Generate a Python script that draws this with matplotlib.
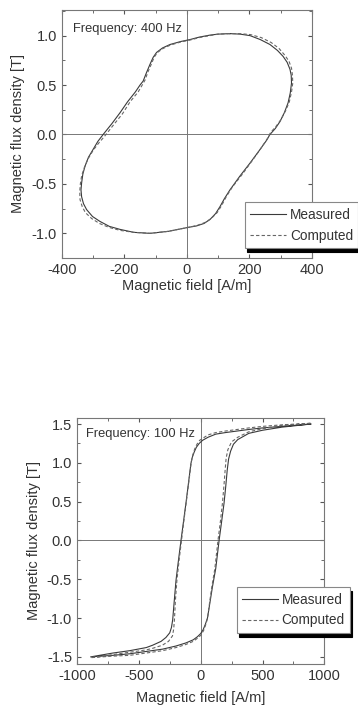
import matplotlib
matplotlib.use('Agg')
import matplotlib.pyplot as plt
from matplotlib.ticker import MultipleLocator, FormatStrFormatter

plt.rcParams['font.family'] = ['Liberation Sans', 'DejaVu Sans']
plt.rcParams['axes.unicode_minus'] = False

# 400 Hz loop (H in A/m, B in T)
h400_meas = [138, 100, 74, 40, 10, -20, -54, -78, -97, -108, -118, -130, -140, -150, -165,
             -190, -214, -240, -268, -285, -300, -315, -326, -333, -337, -339, -337, -331,
             -321, -302, -278, -248, -214, -170, -118, -60, 4, 31, 55, 74, 92, 106, 120, 138,
             170, 202, 230, 255, 266, 283, 298, 312, 324, 331, 335, 334, 330, 321, 308, 290,
             266, 235, 202, 170, 138]
b400_meas = [1.02, 1.015, 1.005, 0.985, 0.96, 0.94, 0.91, 0.875, 0.83, 0.78, 0.71, 0.62, 0.54,
             0.50, 0.43, 0.33, 0.22, 0.11, 0.0, -0.07, -0.15, -0.23, -0.32, -0.40, -0.49, -0.56,
             -0.63, -0.70, -0.76, -0.83, -0.88, -0.93, -0.96, -0.99, -1.0, -0.98, -0.94, -0.925,
             -0.90, -0.86, -0.80, -0.73, -0.65, -0.56, -0.42, -0.29, -0.17, -0.06, 0.0, 0.06,
             0.13, 0.22, 0.32, 0.42, 0.52, 0.60, 0.66, 0.73, 0.79, 0.85, 0.91, 0.96, 1.0, 1.015,
             1.02]
h400_comp = [138, 100, 74, 40, 10, -20, -52, -76, -94, -105, -114, -125, -134, -143, -156,
             -182, -206, -234, -264, -283, -300, -317, -329, -337, -341, -343, -342, -335,
             -325, -305, -280, -249, -214, -170, -118, -60, 4, 33, 58, 78, 97, 111, 126, 146,
             178, 208, 235, 258, 268, 285, 301, 316, 328, 335, 339, 338, 335, 327, 314, 295,
             270, 238, 204, 170, 138]
b400_comp = [1.02, 1.015, 1.0, 0.98, 0.955, 0.935, 0.905, 0.87, 0.83, 0.78, 0.71, 0.63, 0.55,
             0.50, 0.43, 0.33, 0.21, 0.10, -0.02, -0.09, -0.16, -0.25, -0.34, -0.42, -0.50,
             -0.58, -0.66, -0.73, -0.79, -0.85, -0.90, -0.94, -0.97, -0.99, -1.0, -0.98, -0.94,
             -0.92, -0.89, -0.85, -0.79, -0.72, -0.63, -0.53, -0.40, -0.27, -0.15, -0.04, 0.02,
             0.08, 0.15, 0.24, 0.33, 0.43, 0.52, 0.60, 0.67, 0.74, 0.80, 0.87, 0.93, 0.98, 1.01,
             1.02, 1.02]

# 100 Hz loop
h100_meas = [890, 657, 500, 389, 200, 122, 60, 15, -12, -35, -52, -68, -79, -100, -119, -139,
             -159, -179, -199, -213, -226, -236, -250, -281, -320, -389, -440, -574, -708, -890,
             -708, -574, -440, -307, -200, -119, -60, -26, 0, 20, 38, 55, 70, 95, 122, 149, 170,
             189, 203, 215, 226, 242, 265, 300, 389, 500, 657, 890]
b100_meas = [1.5, 1.47, 1.45, 1.43, 1.39, 1.37, 1.33, 1.29, 1.25, 1.2, 1.14, 1.07, 0.99, 0.72,
             0.48, 0.24, 0.0, -0.25, -0.51, -0.77, -1.02, -1.12, -1.19, -1.25, -1.3, -1.35,
             -1.38, -1.42, -1.45, -1.5, -1.48, -1.46, -1.43, -1.40, -1.36, -1.32, -1.28, -1.24,
             -1.20, -1.15, -1.08, -1.0, -0.85, -0.6, -0.36, 0.0, 0.25, 0.48, 0.7, 0.91, 1.05,
             1.15, 1.24, 1.3, 1.38, 1.42, 1.46, 1.5]
h100_comp = [890, 657, 500, 389, 200, 122, 60, 20, -8, -30, -48, -64, -76, -97, -116, -136,
             -155, -174, -192, -204, -212, -218, -228, -260, -310, -389, -440, -574, -708, -890,
             -708, -574, -440, -307, -200, -119, -60, -26, 2, 24, 42, 56, 68, 90, 115, 140, 160,
             176, 188, 198, 206, 220, 250, 300, 389, 500, 657, 890]
b100_comp = [1.51, 1.49, 1.47, 1.45, 1.41, 1.39, 1.36, 1.32, 1.29, 1.24, 1.18, 1.1, 1.01, 0.74,
             0.5, 0.25, 0.0, -0.25, -0.51, -0.77, -1.02, -1.14, -1.23, -1.3, -1.35, -1.39,
             -1.41, -1.44, -1.47, -1.51, -1.49, -1.48, -1.45, -1.42, -1.38, -1.34, -1.30, -1.26,
             -1.22, -1.16, -1.08, -1.0, -0.85, -0.6, -0.36, 0.0, 0.25, 0.48, 0.7, 0.91, 1.06,
             1.17, 1.27, 1.33, 1.40, 1.44, 1.48, 1.51]

panels = [
    dict(h=(h400_meas, h400_comp), b=(b400_meas, b400_comp), freq='Frequency: 400 Hz',
         rect=[0.173, 0.635, 0.698, 0.351], xlim=(-400, 400), ylim=(-1.25, 1.26),
         xmaj=200, xmin=100, freqpos=(0.045, 0.923), legpos=(0.732, 0.04),
         xpad=1.5, ypad=5),
    dict(h=(h100_meas, h100_comp), b=(b100_meas, b100_comp), freq='Frequency: 100 Hz',
         rect=[0.215, 0.061, 0.691, 0.348], xlim=(-1000, 1000), ylim=(-1.59, 1.58),
         xmaj=500, xmin=250, freqpos=(0.036, 0.935), legpos=(0.646, 0.126),
         xpad=6, ypad=4),
]

fig = plt.figure(figsize=(3.58, 7.07), dpi=100)
line_col = '#3a3a3a'
for p in panels:
    ax = fig.add_axes(p['rect'])
    ax.axhline(0, color='#777777', lw=0.7)
    ax.axvline(0, color='#777777', lw=0.7)
    ax.plot(p['h'][0], p['b'][0], color=line_col, lw=0.8, label='Measured')
    ax.plot(p['h'][1], p['b'][1], color='#666666', lw=0.8, ls=(0, (3, 2)), label='Computed')
    ax.set(xlim=p['xlim'], ylim=p['ylim'])
    ax.xaxis.set_major_locator(MultipleLocator(p['xmaj']))
    ax.xaxis.set_minor_locator(MultipleLocator(p['xmin']))
    ax.yaxis.set_major_locator(MultipleLocator(0.5))
    ax.yaxis.set_minor_locator(MultipleLocator(0.25))
    ax.yaxis.set_major_formatter(FormatStrFormatter('%.1f'))
    ax.tick_params(which='both', direction='in', top=True, right=True,
                   labelsize=10.5, color='#555555', labelcolor='#333333')
    ax.tick_params(which='major', length=3)
    ax.tick_params(which='minor', length=2)
    for s in ax.spines.values():
        s.set_color('#777777')
        s.set_linewidth(0.8)
    ax.set_xlabel('Magnetic field [A/m]', fontsize=10.5, color='#333333', labelpad=p['xpad'])
    ax.set_ylabel('Magnetic flux density [T]', fontsize=10.5, color='#333333', labelpad=p['ypad'])
    ax.text(*p['freqpos'], p['freq'], transform=ax.transAxes, fontsize=9.3,
            color='#333333', va='center', ha='left')
    leg = ax.legend(loc='lower left', bbox_to_anchor=p['legpos'], borderaxespad=0,
                    fontsize=9.8, fancybox=False, handlelength=2.6, handletextpad=0.3,
                    framealpha=1, edgecolor='#888888', labelcolor='#333333',
                    shadow={'ox': 1.5, 'oy': -3, 'facecolor': 'black', 'edgecolor': 'black', 'alpha': 1})
    leg.get_frame().set_linewidth(0.8)
    leg.set_clip_on(False)

fig.savefig('out.png', dpi=100)
